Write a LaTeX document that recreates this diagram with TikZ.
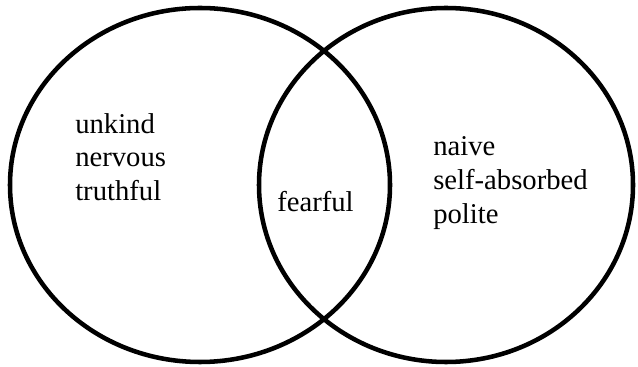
\documentclass[tikz,border=0pt]{standalone}
\usepackage{fontspec}
\setmainfont{Liberation Serif}
\begin{document}
\begin{tikzpicture}[x=0.75pt,y=0.75pt,
  ring/.style={line width=3.4pt,draw=black},
  word/.style={anchor=base west,inner sep=0pt,font=\fontsize{21.5}{26}\selectfont}]
\useasboundingbox (0,0) rectangle (638,367);
\draw[ring] (200,182) ellipse [x radius=190,y radius=177];
\draw[ring] (446,182) ellipse [x radius=187,y radius=177];
\node[word] (unkind) at (75,233) {unkind};
\node[word] (nervous) at (75,200) {nervous};
\node[word] (truthful) at (75,166) {truthful};
\node[word] (fearful) at (277,155) {fearful};
\node[word] (naive) at (433,211) {naive};
\node[word] (selfabsorbed) at (433,177) {self-absorbed};
\node[word] (polite) at (433,143) {polite};
\end{tikzpicture}
\end{document}
